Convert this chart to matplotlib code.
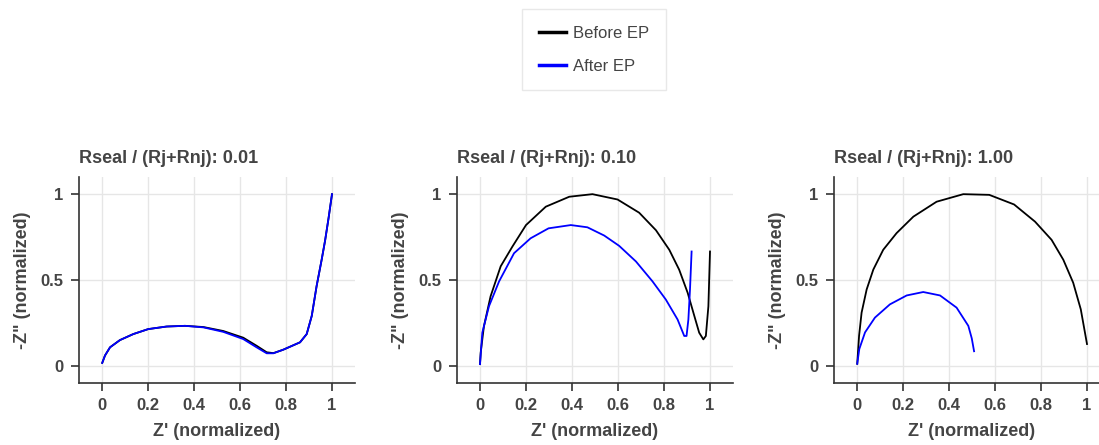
import matplotlib
matplotlib.use('Agg')
import matplotlib.pyplot as plt
from matplotlib.ticker import FuncFormatter

plt.rcParams['font.family'] = ['Liberation Sans', 'DejaVu Sans']

titles = ['Rseal / (Rj+Rnj): 0.01', 'Rseal / (Rj+Rnj): 0.10', 'Rseal / (Rj+Rnj): 1.00']

# panel 1 (Rseal ratio 0.01)
p1_before_x = [0.001, 0.013, 0.035, 0.078, 0.136, 0.201, 0.281, 0.361, 0.441, 0.527, 0.614, 0.672, 0.716, 0.745, 0.788, 0.861, 0.89, 0.912, 0.933, 0.955, 0.97, 0.985, 1.0]
p1_before_y = [0.017, 0.06, 0.108, 0.15, 0.185, 0.214, 0.229, 0.233, 0.226, 0.203, 0.164, 0.117, 0.079, 0.074, 0.094, 0.137, 0.185, 0.291, 0.464, 0.618, 0.73, 0.86, 1.0]
p1_after_x = [0.001, 0.013, 0.035, 0.078, 0.136, 0.201, 0.281, 0.361, 0.441, 0.527, 0.614, 0.672, 0.716, 0.745, 0.788, 0.861, 0.89, 0.912, 0.933, 0.955, 0.97, 0.985, 1.0]
p1_after_y = [0.017, 0.06, 0.108, 0.15, 0.185, 0.214, 0.229, 0.233, 0.224, 0.198, 0.156, 0.108, 0.073, 0.073, 0.094, 0.137, 0.185, 0.291, 0.464, 0.618, 0.73, 0.86, 1.0]

# panel 2 (Rseal ratio 0.10)
p2_before_x = [0, 0.003, 0.017, 0.046, 0.09, 0.141, 0.2, 0.286, 0.388, 0.489, 0.598, 0.692, 0.765, 0.823, 0.866, 0.903, 0.932, 0.953, 0.971, 0.982, 0.993, 1.0]
p2_before_y = [0.01, 0.077, 0.23, 0.405, 0.58, 0.695, 0.82, 0.927, 0.985, 1.0, 0.969, 0.892, 0.79, 0.676, 0.56, 0.425, 0.29, 0.193, 0.154, 0.174, 0.347, 0.666]
p2_after_x = [0, 0.01, 0.039, 0.083, 0.148, 0.22, 0.298, 0.395, 0.467, 0.54, 0.605, 0.678, 0.75, 0.808, 0.859, 0.888, 0.898, 0.906, 0.913, 0.92]
p2_after_y = [0.01, 0.193, 0.347, 0.492, 0.656, 0.743, 0.801, 0.82, 0.807, 0.759, 0.699, 0.608, 0.492, 0.386, 0.27, 0.174, 0.174, 0.27, 0.444, 0.666]

# panel 3 (Rseal ratio 1.00)
p3_before_x = [0.001, 0.009, 0.02, 0.042, 0.071, 0.114, 0.172, 0.245, 0.346, 0.462, 0.575, 0.683, 0.774, 0.846, 0.897, 0.94, 0.973, 1.0]
p3_before_y = [0.012, 0.175, 0.31, 0.445, 0.561, 0.676, 0.773, 0.869, 0.956, 1.0, 0.996, 0.94, 0.84, 0.734, 0.618, 0.484, 0.329, 0.127]
p3_after_x = [0.001, 0.01, 0.035, 0.078, 0.143, 0.216, 0.288, 0.361, 0.433, 0.484, 0.499, 0.509]
p3_after_y = [0.012, 0.098, 0.195, 0.281, 0.358, 0.41, 0.43, 0.41, 0.339, 0.233, 0.16, 0.085]

before = [(p1_before_x, p1_before_y), (p2_before_x, p2_before_y), (p3_before_x, p3_before_y)]
after = [(p1_after_x, p1_after_y), (p2_after_x, p2_after_y), (p3_after_x, p3_after_y)]

x_ticks = [0, 0.2, 0.4, 0.6, 0.8, 1]
y_ticks = [0, 0.5, 1]

TXT = '#444444'

def fmt(v, pos):
    return ('%g' % round(v, 2))

fig = plt.figure(figsize=(10.99, 4.45), dpi=100)
lefts = [79, 457, 834]
for i in range(3):
    ax = fig.add_axes([lefts[i] / 1099, 1 - 383 / 445, 276 / 1099, 206 / 445])
    bx, by = before[i]
    axx, ayy = after[i]
    lb, = ax.plot(bx, by, color='black', lw=1.3, label='Before EP', zorder=3)
    la, = ax.plot(axx, ayy, color='#0000ff', lw=1.3, label='After EP', zorder=4)
    ax.set_xlim(-0.1, 1.1)
    ax.set_ylim(-0.1, 1.1)
    ax.set_xticks(x_ticks)
    ax.set_yticks(y_ticks)
    ax.xaxis.set_major_formatter(FuncFormatter(fmt))
    ax.yaxis.set_major_formatter(FuncFormatter(fmt))
    ax.grid(True, color='#e6e6e6', lw=1)
    ax.set_axisbelow(True)
    for s in ['top', 'right']:
        ax.spines[s].set_visible(False)
    for s in ['left', 'bottom']:
        ax.spines[s].set_color('#333333')
        ax.spines[s].set_linewidth(1.2)
    ax.tick_params(length=6, width=1.2, color='#333333', labelcolor=TXT, labelsize=12, pad=5)
    for t in ax.get_xticklabels() + ax.get_yticklabels():
        t.set_fontweight('bold')
    ax.set_xlabel("Z' (normalized)", fontsize=13, fontweight='bold', color=TXT, labelpad=7)
    ax.set_ylabel('-Z" (normalized)', fontsize=13, fontweight='bold', color=TXT, labelpad=7)
    ax.set_title(titles[i], loc='left', fontsize=13, fontweight='bold', color=TXT, pad=10)

leg = fig.legend(handles=[lb, la], loc='upper center', bbox_to_anchor=(594 / 1099, 1 - 9 / 445),
                 fontsize=12, frameon=True, fancybox=False, borderpad=1.0, borderaxespad=0,
                 labelspacing=1.08, handlelength=1.6, handletextpad=0.45)
leg.get_frame().set_edgecolor('#e3e3e3')
leg.get_frame().set_linewidth(1)
for t in leg.get_texts():
    t.set_color(TXT)
for h in leg.get_lines():
    h.set_linewidth(2.5)

fig.savefig('out.png', dpi=100)
